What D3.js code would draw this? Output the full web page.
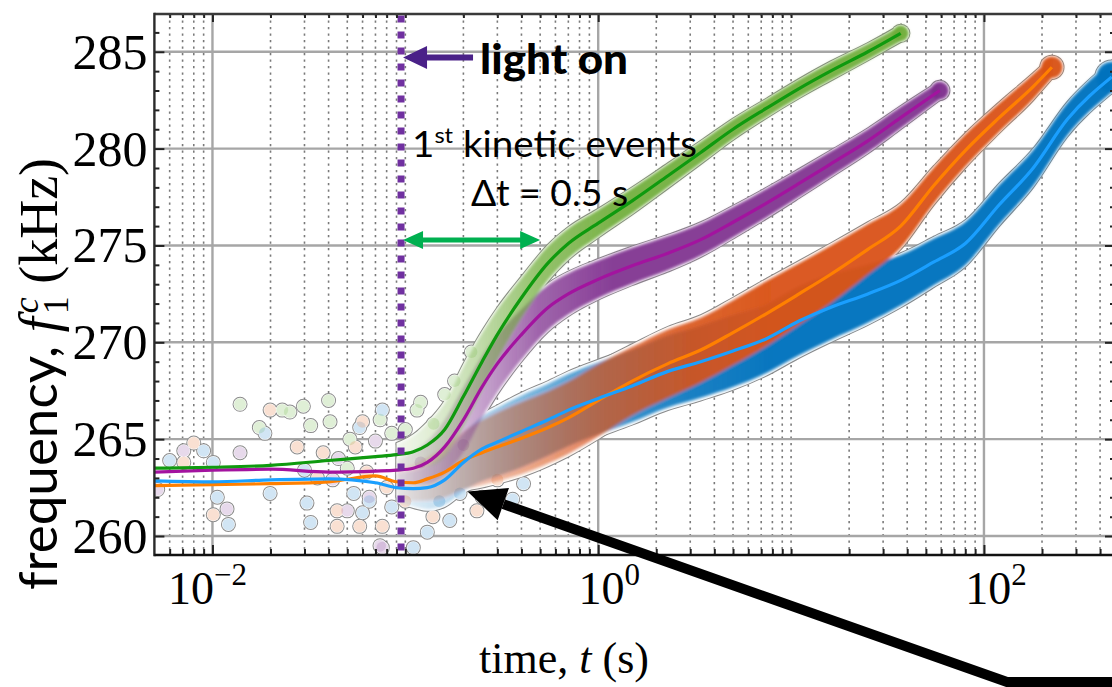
<!DOCTYPE html>
<html>
<head>
<meta charset="utf-8">
<script src="https://cdn.jsdelivr.net/npm/d3@7"></script>
<style>
  html, body { margin: 0; padding: 0; background: #ffffff; }
  svg { display: block; }
</style>
</head>
<body>
<svg id="chart" width="1112" height="687"></svg>
<script>
// ---------------- data ----------------
// time (s) and resonance frequency f1c (kHz) of the smoothed traces,
// plus the half-spread (kHz) of the raw scatter around each trace
// (null where the early scatter is too sparse to form a band)
const greenTimes  = [0.005, 0.01, 0.02, 0.04, 0.07, 0.09, 0.11, 0.13, 0.16, 0.2, 0.25, 0.3, 0.4, 0.55, 0.7, 1, 1.5, 2.3, 3.4, 5, 7.5, 11, 16, 25, 37];
const greenFreq   = [263.5, 263.55, 263.65, 263.9, 264.1, 264.2, 264.35, 264.7, 265.5, 267.2, 269.0, 270.4, 272.3, 274.1, 275.1, 276.15, 277.3, 278.6, 279.8, 281.0, 282.1, 283.1, 284.0, 285.0, 285.95];
const greenSpread = [null, null, null, null, null, 0.6, 0.9, 1.2, 1.5, 1.7, 1.6, 1.4, 1.1, 0.95, 0.85, 0.75, 0.7, 0.65, 0.6, 0.55, 0.5, 0.5, 0.5, 0.45, 0.45];

const purpleTimes  = [0.005, 0.01, 0.02, 0.04, 0.07, 0.09, 0.11, 0.13, 0.16, 0.2, 0.25, 0.3, 0.4, 0.55, 0.7, 1, 1.5, 2.3, 3.4, 5, 7.5, 11, 16, 25, 37, 59];
const purpleFreq   = [263.3, 263.4, 263.45, 263.3, 263.35, 263.4, 263.5, 263.8, 264.6, 266.0, 267.7, 268.9, 270.4, 271.8, 272.5, 273.25, 273.95, 274.6, 275.3, 276.2, 277.2, 278.2, 279.2, 280.4, 281.6, 283.0];
const purpleSpread = [null, null, null, null, null, 0.6, 0.9, 1.2, 1.5, 1.8, 1.7, 1.6, 1.4, 1.25, 1.15, 1.05, 1.0, 0.95, 0.9, 0.85, 0.8, 0.75, 0.7, 0.65, 0.6, 0.5];

const orangeTimes  = [0.005, 0.01, 0.02, 0.04, 0.07, 0.09, 0.11, 0.13, 0.16, 0.2, 0.25, 0.3, 0.4, 0.55, 0.7, 1, 1.5, 2.3, 3.4, 5, 7.5, 11, 16, 25, 37, 55, 80, 120, 180, 225];
const orangeFreq   = [262.6, 262.65, 262.7, 262.8, 263.1, 262.8, 262.75, 262.95, 263.3, 263.9, 264.3, 264.6, 265.05, 265.6, 266.1, 267.0, 268.0, 268.9, 269.6, 270.5, 271.5, 272.5, 273.5, 274.8, 276.0, 278.1, 279.9, 281.6, 283.2, 284.2];
const orangeSpread = [null, null, null, null, null, 0.8, 1.0, 1.2, 1.4, 1.6, 1.8, 1.9, 2.0, 2.0, 2.0, 2.0, 1.9, 1.9, 1.8, 1.8, 1.8, 1.7, 1.6, 1.4, 1.2, 1.0, 0.9, 0.8, 0.7, 0.6];

const blueTimes  = [0.005, 0.01, 0.02, 0.04, 0.07, 0.09, 0.11, 0.13, 0.16, 0.2, 0.25, 0.3, 0.4, 0.55, 0.7, 1, 1.5, 2.3, 3.4, 5, 7.5, 11, 16, 25, 37, 55, 80, 120, 180, 270, 460];
const blueFreq   = [262.85, 262.8, 262.9, 262.95, 262.75, 262.5, 262.45, 262.5, 262.9, 263.8, 264.5, 264.85, 265.4, 266.0, 266.5, 267.1, 267.75, 268.5, 269.0, 269.55, 270.2, 271.1, 271.8, 272.5, 273.2, 274.15, 275.1, 277.1, 279.0, 281.5, 283.7];
const blueSpread = [null, null, null, null, null, 0.8, 1.0, 1.2, 1.4, 1.6, 1.8, 1.9, 2.0, 2.0, 2.0, 2.0, 2.0, 2.0, 2.0, 2.0, 1.9, 1.9, 1.8, 1.6, 1.4, 1.3, 1.2, 1.1, 1.0, 0.9, 0.85];

// sparse raw points before and just after illumination: [time s, f kHz, trace]
const earlyPoints = [
  [0.0052, 262.4, "p"], [0.0060, 263.9, "b"], [0.0071, 264.4, "p"], [0.0071, 263.8, "o"],
  [0.0080, 264.8, "o"], [0.0090, 264.4, "b"], [0.0101, 263.8, "b"], [0.0101, 261.1, "o"],
  [0.0106, 262.0, "b"], [0.0119, 261.4, "p"], [0.0121, 260.6, "b"], [0.0139, 264.3, "p"],
  [0.0139, 266.8, "g"], [0.0175, 265.6, "g"], [0.0187, 265.3, "b"], [0.0199, 266.5, "o"],
  [0.0199, 262.2, "b"], [0.0230, 266.5, "g"], [0.0252, 266.4, "g"], [0.0275, 264.6, "o"],
  [0.0296, 266.7, "g"], [0.0309, 261.7, "b"], [0.0323, 265.7, "g"], [0.0323, 260.7, "b"],
  [0.0300, 263.4, "b"], [0.0350, 263.0, "o"], [0.0375, 264.3, "o"], [0.0400, 267.0, "g"],
  [0.0407, 265.9, "g"], [0.0420, 262.9, "p"], [0.0443, 261.3, "o"], [0.0443, 260.5, "o"],
  [0.0450, 264.0, "p"], [0.0500, 261.3, "p"], [0.0500, 263.5, "g"], [0.0516, 265.0, "g"],
  [0.0540, 262.2, "b"], [0.0550, 264.6, "o"], [0.0580, 265.6, "b"], [0.0580, 260.5, "o"],
  [0.0600, 265.9, "o"], [0.0600, 261.2, "b"], [0.0630, 263.3, "o"], [0.0650, 262.0, "p"],
  [0.0650, 261.8, "b"], [0.0700, 264.9, "p"], [0.0740, 266.0, "g"], [0.0739, 259.5, "p"],
  [0.0760, 266.5, "b"], [0.0760, 260.5, "o"], [0.0760, 259.4, "p"], [0.0800, 262.5, "o"],
  [0.0850, 265.3, "g"], [0.0850, 261.5, "b"], [0.1000, 265.5, "g"], [0.1000, 261.8, "o"],
  [0.1100, 259.4, "b"], [0.1150, 266.5, "g"], [0.1200, 263.8, "p"], [0.1200, 266.9, "g"],
  [0.1300, 260.2, "b"], [0.1390, 261.0, "o"], [0.1400, 265.8, "g"], [0.1500, 261.8, "b"],
  [0.1600, 267.3, "g"], [0.1700, 260.8, "b"], [0.1800, 268.0, "g"], [0.1920, 262.2, "b"],
  [0.2000, 264.7, "p"], [0.2200, 269.5, "g"], [0.2350, 261.3, "o"], [0.2500, 262.0, "b"],
  [0.3000, 262.9, "o"], [0.3600, 261.9, "b"], [0.4100, 262.7, "b"]
];

// axis ticks
const xMajorTicks   = [0.01, 1, 100];
const xTickExponent = ["\u22122", "0", "2"];
const yMajorTicks   = [260, 265, 270, 275, 280, 285];

// annotation values
const lightOnTime   = 0.095;   // s
const kineticDelta  = 0.5;     // s, "1st kinetic events"
const calloutTip    = [0.21, 262.3];

// ---------------- layout ----------------
const svg  = d3.select("#chart");
const plot = { left: 154.4, right: 1115, top: 14, bottom: 555 };

const x = d3.scaleLog().domain([0.005, 478]).range([plot.left, plot.right]);
const y = d3.scaleLinear().domain([259.02, 286.95]).range([plot.bottom, plot.top]);

const serif = "'Liberation Serif', 'DejaVu Serif', serif";
const sans  = "Lato, 'Open Sans', 'Liberation Sans', sans-serif";

const defs = svg.append("defs");
defs.append("clipPath").attr("id", "plotClip")
  .append("rect")
  .attr("x", plot.left).attr("y", plot.top)
  .attr("width", plot.right - plot.left).attr("height", plot.bottom - plot.top);

defs.append("filter").attr("id", "soft")
  .attr("x", "-10%").attr("y", "-10%").attr("width", "120%").attr("height", "120%")
  .append("feGaussianBlur").attr("stdDeviation", 1.8);

const traces = [
  { key: "b", times: blueTimes,   freq: blueFreq,   spread: blueSpread,   cloud: "#0072bd", line: "#1a9fff", pastel: "#5ba3d6",
    fade: [[0.09, 0.08], [0.3, 0.42], [1, 0.72], [3, 0.9], [8, 0.97]] },
  { key: "o", times: orangeTimes, freq: orangeFreq, spread: orangeSpread, cloud: "#d95319", line: "#ff8000", pastel: "#e8905f",
    fade: [[0.09, 0.08], [0.3, 0.42], [1, 0.72], [3, 0.9], [8, 0.97]] },
  { key: "p", times: purpleTimes, freq: purpleFreq, spread: purpleSpread, cloud: "#7e2f8e", line: "#a3139f", pastel: "#a877b8",
    fade: [[0.09, 0.08], [0.2, 0.35], [0.5, 0.75], [1.2, 0.93]] },
  { key: "g", times: greenTimes,  freq: greenFreq,  spread: greenSpread,  cloud: "#70ad3a", line: "#0f9a0f", pastel: "#8cc46a",
    fade: [[0.09, 0.08], [0.2, 0.35], [0.5, 0.75], [1.2, 0.93]] }
];
const traceByKey = {};
traces.forEach(s => {
  traceByKey[s.key] = s;
  s.rows = s.times.map((t, i) => ({ t: t, f: s.freq[i], s: s.spread[i] }));
  s.bandRows = s.rows.filter(d => d.s != null);
  // opacity ramp of the scatter cloud along the time axis
  const g = defs.append("linearGradient").attr("id", "fade-" + s.key)
    .attr("gradientUnits", "userSpaceOnUse")
    .attr("x1", plot.left).attr("x2", plot.right).attr("y1", 0).attr("y2", 0);
  s.fade.forEach(([t, o]) => {
    g.append("stop")
      .attr("offset", (x(t) - plot.left) / (plot.right - plot.left))
      .attr("stop-color", s.cloud).attr("stop-opacity", o);
  });
});

const band = k => d3.area()
  .x(d => x(d.t))
  .y0(d => y(d.f - k * d.s))
  .y1(d => y(d.f + k * d.s))
  .curve(d3.curveMonotoneX);

const line = d3.line()
  .x(d => x(d.t))
  .y(d => y(d.f))
  .curve(d3.curveMonotoneX);

// ---------------- grid ----------------
const grid = svg.append("g").attr("clip-path", "url(#plotClip)");
const minorX = [];
for (let e = -3; e <= 3; e++) {
  for (let k = 1; k <= 9; k++) {
    const v = k * Math.pow(10, e);
    if (v > 0.005 && v < 478 && !xMajorTicks.some(m => Math.abs(m - v) / v < 1e-9)) minorX.push(v);
  }
}
grid.selectAll(".minorx").data(minorX).join("line")
  .attr("x1", d => x(d)).attr("x2", d => x(d))
  .attr("y1", plot.top).attr("y2", plot.bottom)
  .attr("stroke", "#7a7a7a").attr("stroke-width", 1.6)
  .attr("stroke-dasharray", "2.2 4.3");
grid.selectAll(".majorx").data(xMajorTicks).join("line")
  .attr("x1", d => x(d)).attr("x2", d => x(d))
  .attr("y1", plot.top).attr("y2", plot.bottom)
  .attr("stroke", "#a6a6a6").attr("stroke-width", 2.4);
grid.selectAll(".majory").data(yMajorTicks).join("line")
  .attr("x1", plot.left).attr("x2", plot.right)
  .attr("y1", d => y(d)).attr("y2", d => y(d))
  .attr("stroke", "#a6a6a6").attr("stroke-width", 2.4);

// ---------------- scatter clouds ----------------
const clouds = svg.append("g").attr("clip-path", "url(#plotClip)");
const dotR = 6.5;

// outline of the union of all points and bands
const outline = clouds.append("g");
function drawShapes(g, attrs) {
  const apply = sel => { for (const a in attrs) sel.attr(a, attrs[a]); };
  g.selectAll("circle.pt").data(earlyPoints).join("circle").attr("class", "pt")
    .attr("cx", d => x(d[0])).attr("cy", d => y(d[1])).attr("r", dotR)
    .call(apply);
  traces.forEach(s => {
    g.append("path").datum(s.bandRows).attr("d", band(1)).call(apply);
    const last = s.bandRows[s.bandRows.length - 1];
    g.append("circle")
      .attr("cx", x(last.t)).attr("cy", y(last.f))
      .attr("r", y(last.f - last.s) - y(last.f))
      .call(apply);
  });
}
drawShapes(outline.append("g"), { fill: "none", stroke: "#8c8c8c", "stroke-width": 2 });
drawShapes(outline.append("g"), { fill: "#ffffff", stroke: "none" });

// pastel early points
clouds.append("g").selectAll("circle").data(earlyPoints).join("circle")
  .attr("cx", d => x(d[0])).attr("cy", d => y(d[1])).attr("r", dotR - 0.5)
  .attr("fill", d => traceByKey[d[2]].pastel).attr("fill-opacity", 0.28);

// dense bands
const bands = clouds.append("g").attr("filter", "url(#soft)");
traces.forEach(s => {
  bands.append("path").datum(s.bandRows).attr("d", band(0.93))
    .attr("fill", "url(#fade-" + s.key + ")");
  const last = s.bandRows[s.bandRows.length - 1];
  bands.append("circle")
    .attr("cx", x(last.t)).attr("cy", y(last.f))
    .attr("r", (y(last.f - last.s) - y(last.f)) * 0.93)
    .attr("fill", s.cloud).attr("fill-opacity", 0.96);
});

// ---------------- smoothed traces ----------------
const lines = svg.append("g").attr("clip-path", "url(#plotClip)");
["o", "b", "p", "g"].forEach(k => {
  const s = traceByKey[k];
  lines.append("path").datum(s.rows).attr("d", line)
    .attr("fill", "none").attr("stroke", s.line)
    .attr("stroke-width", 3.2).attr("stroke-linejoin", "round");
});

// ---------------- illumination marker ----------------
svg.append("line")
  .attr("x1", x(lightOnTime)).attr("x2", x(lightOnTime))
  .attr("y1", plot.top).attr("y2", plot.bottom)
  .attr("stroke", "#7030a0").attr("stroke-width", 7)
  .attr("stroke-dasharray", "7 9").attr("stroke-dashoffset", 14.5);

// ---------------- axes ----------------
const axes = svg.append("g");
function styleAxis(g) {
  g.select(".domain").remove();
  g.selectAll(".tick line").attr("stroke", "#222").attr("stroke-width", 2);
}
axes.append("g").attr("transform", `translate(0,${plot.bottom})`)
  .call(d3.axisBottom(x).tickValues(minorX).tickSize(-6).tickFormat(""))
  .call(styleAxis);
axes.append("g").attr("transform", `translate(0,${plot.bottom})`)
  .call(d3.axisBottom(x).tickValues(xMajorTicks).tickSize(-10).tickFormat(""))
  .call(styleAxis);
axes.append("g").attr("transform", `translate(0,${plot.top})`)
  .call(d3.axisTop(x).tickValues(minorX).tickSize(-4).tickFormat(""))
  .call(styleAxis);
axes.append("g").attr("transform", `translate(0,${plot.top})`)
  .call(d3.axisTop(x).tickValues(xMajorTicks).tickSize(-8).tickFormat(""))
  .call(styleAxis);

const yMinor = d3.range(260, 287).filter(v => v % 5 !== 0);
axes.append("g").attr("transform", `translate(${plot.left},0)`)
  .call(d3.axisLeft(y).tickValues(yMinor).tickSize(-5).tickFormat(""))
  .call(styleAxis);
axes.append("g").attr("transform", `translate(${plot.right},0)`)
  .call(d3.axisRight(y).tickValues(yMinor).tickSize(-5).tickFormat(""))
  .call(styleAxis);
axes.append("g").attr("transform", `translate(${plot.right},0)`)
  .call(d3.axisRight(y).tickValues(yMajorTicks).tickSize(-10).tickFormat(""))
  .call(styleAxis);
const yAxis = axes.append("g").attr("transform", `translate(${plot.left},0)`)
  .call(d3.axisLeft(y).tickValues(yMajorTicks).tickSize(-10).tickPadding(7).tickFormat(d3.format("d")))
  .call(styleAxis);
yAxis.selectAll(".tick text")
  .attr("font-family", serif).attr("font-size", 50).attr("fill", "#000")
  .attr("dy", "0.33em");

// frame
axes.append("line").attr("x1", plot.left).attr("x2", plot.right).attr("y1", plot.top).attr("y2", plot.top)
  .attr("stroke", "#3a3a3a").attr("stroke-width", 2.4);
axes.append("line").attr("x1", plot.left).attr("x2", plot.left).attr("y1", plot.top - 1.2).attr("y2", plot.bottom + 1.2)
  .attr("stroke", "#2a2a2a").attr("stroke-width", 2.4);
axes.append("line").attr("x1", plot.left).attr("x2", plot.right).attr("y1", plot.bottom).attr("y2", plot.bottom)
  .attr("stroke", "#111").attr("stroke-width", 2.6);
axes.append("line").attr("x1", plot.right).attr("x2", plot.right).attr("y1", plot.top).attr("y2", plot.bottom)
  .attr("stroke", "#2a2a2a").attr("stroke-width", 2.4);

// x tick labels 10^n
const xLabelShift = [-5, 11, 12];
const xLabels = axes.append("g").selectAll("text").data(xMajorTicks).join("text")
  .attr("x", (d, i) => x(d) + xLabelShift[i]).attr("y", 604)
  .attr("text-anchor", "middle").attr("font-family", serif).attr("fill", "#000");
xLabels.append("tspan").attr("font-size", 46).text("10");
xLabels.append("tspan").attr("font-size", 31).attr("dy", -19).text((d, i) => xTickExponent[i]);

// axis titles
const xTitle = svg.append("text")
  .attr("x", 564).attr("y", 673).attr("text-anchor", "middle")
  .attr("font-family", serif).attr("font-size", 44).attr("fill", "#000");
xTitle.append("tspan").text("time, ");
xTitle.append("tspan").attr("font-style", "italic").text("t");
xTitle.append("tspan").text(" (s)");

const yTitle = svg.append("text")
  .attr("transform", "translate(57,374) rotate(-90)")
  .attr("text-anchor", "middle").attr("fill", "#000");
yTitle.append("tspan").attr("font-family", sans).attr("font-size", 53).text("frequency, ");
yTitle.append("tspan").attr("font-family", serif).attr("font-size", 54).attr("font-style", "italic").text("f");
yTitle.append("tspan").attr("font-family", serif).attr("font-size", 36).attr("dx", 3).attr("dy", 11).text("1");
yTitle.append("tspan").attr("font-family", serif).attr("font-size", 36).attr("font-style", "italic")
  .attr("dx", -17).attr("dy", -30).text("c");
yTitle.append("tspan").attr("font-family", serif).attr("font-size", 54).attr("dy", 19).text(" (kHz)");

// ---------------- annotations ----------------
const ann = svg.append("g");
const lx = x(lightOnTime);
const ly = y(284.7);

// "light on" arrow
ann.append("path")
  .attr("d", d3.line()([[lx + 2, ly], [lx + 26, ly - 11.5], [lx + 26, ly - 3], [lx + 72, ly - 3],
                        [lx + 72, ly + 3], [lx + 26, ly + 3], [lx + 26, ly + 11.5]]) + "Z")
  .attr("fill", "#4a2188");
ann.append("text").attr("x", lx + 79).attr("y", ly + 16)
  .attr("font-family", sans).attr("font-weight", 900).attr("font-size", 41).attr("fill", "#000")
  .attr("textLength", 148).attr("lengthAdjust", "spacingAndGlyphs")
  .text("light on");

// first kinetic events
const k1 = ann.append("text").attr("x", lx + 11).attr("y", 157)
  .attr("font-family", sans).attr("font-size", 36).attr("fill", "#000")
  .attr("textLength", 285).attr("lengthAdjust", "spacingAndGlyphs");
k1.append("tspan").text("1");
k1.append("tspan").attr("font-size", 22).attr("dy", -14).text("st");
k1.append("tspan").attr("dy", 14).text(" kinetic events");
ann.append("text").attr("x", lx + 70).attr("y", 206)
  .attr("font-family", sans).attr("font-size", 36).attr("fill", "#000")
  .attr("textLength", 157).attr("lengthAdjust", "spacingAndGlyphs")
  .text("\u0394t = 0.5 s");

// double arrow spanning the delay
const ax0 = lx + 2, ax1 = x(kineticDelta), ay = 240;
ann.append("path")
  .attr("d", d3.line()([[ax0, ay], [ax0 + 20, ay - 9], [ax0 + 20, ay - 2.5], [ax1 - 20, ay - 2.5], [ax1 - 20, ay - 9],
                        [ax1, ay], [ax1 - 20, ay + 9], [ax1 - 20, ay + 2.5], [ax0 + 20, ay + 2.5], [ax0 + 20, ay + 9]]) + "Z")
  .attr("fill", "#00b050");

// callout arrow to the onset of the frequency rise
const tip = [x(calloutTip[0]), y(calloutTip[1])];
const tail = [1007, 682];
const len = Math.hypot(tail[0] - tip[0], tail[1] - tip[1]);
const ux = (tail[0] - tip[0]) / len, uy = (tail[1] - tip[1]) / len;
const headL = 38, headW = 17;
const base = [tip[0] + ux * headL, tip[1] + uy * headL];
ann.append("path")
  .attr("d", d3.line()([[1130, tail[1]], tail, base]))
  .attr("fill", "none").attr("stroke", "#000").attr("stroke-width", 10).attr("stroke-linejoin", "miter");
ann.append("path")
  .attr("d", d3.line()([tip, [base[0] - uy * headW, base[1] + ux * headW], [base[0] + uy * headW, base[1] - ux * headW]]) + "Z")
  .attr("fill", "#000");
</script>
</body>
</html>
